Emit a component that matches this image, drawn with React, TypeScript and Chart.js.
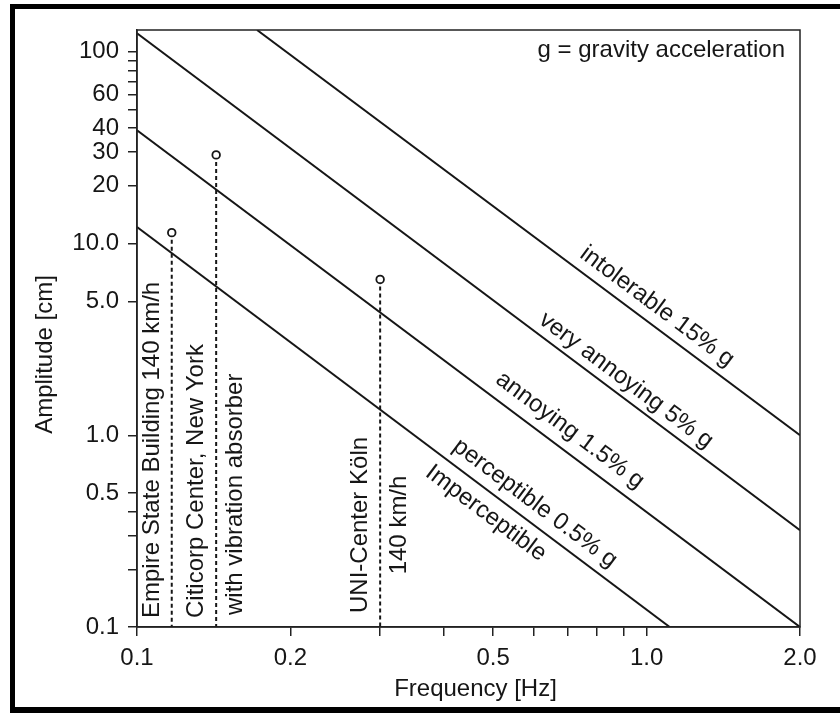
import React, { useEffect, useRef } from 'react';
import { Chart, registerables } from 'chart.js';
Chart.register(...registerables);

const FONT = '"Liberation Sans", Arial, Helvetica, sans-serif';
const INK = '#161616';
const FS = 24;

// ---- axis ticks ----
const xTickValues = [0.1, 0.2, 0.3, 0.4, 0.5, 0.6, 0.7, 0.8, 0.9, 1.0, 2.0];
const xTickLabels = ['0.1', '0.2', '', '', '0.5', '', '', '', '', '1.0', '2.0'];
const yTickValues = [0.1, 0.2, 0.3, 0.4, 0.5, 1, 5, 10, 20, 30, 40, 50, 60, 70, 80, 90, 100];
const yTickLabels = ['0.1', '', '', '', '0.5', '1.0', '5.0', '10.0', '20', '30', '40', '', '60', '', '', '', '100'];

// ---- comfort limit lines (frequency Hz, amplitude cm) ----
const intolerable = [{ x: 0.172, y: 130 }, { x: 2.0, y: 1.0 }];
const veryAnnoying = [{ x: 0.1, y: 125 }, { x: 2.0, y: 0.32 }];
const annoying = [{ x: 0.1, y: 39 }, { x: 2.0, y: 0.1 }];
const perceptible = [{ x: 0.1, y: 12.2 }, { x: 1.11, y: 0.1 }];
const limitLines = [intolerable, veryAnnoying, annoying, perceptible];

const limitLabels = ['intolerable 15% g', 'very annoying 5% g', 'annoying 1.5% g', 'perceptible 0.5% g', 'Imperceptible'];
const limitLabelLine = [0, 1, 2, 3, 3];
const limitLabelFreq = [1.0, 0.874, 0.671, 0.575, 0.51];

// ---- buildings ----
const buildingFreq = [0.117, 0.143, 0.3];
const buildingAmp = [11.4, 29, 6.5];
const buildingLabel1 = ['Empire State Building 140 km/h', 'Citicorp Center, New York', 'UNI-Center Köln'];
const buildingLabel2 = ['', 'with vibration absorber', '140 km/h'];
const axisFloor = 0.1;

const noteText = 'g = gravity acceleration';
const xTitle = 'Frequency [Hz]';
const yTitle = 'Amplitude [cm]';

// ---- style / placement (pixels) ----
const LABEL_OFFSETS = [17.6, 15.5, 19.4, 18, -19.4];
const BUILDING_STYLE = [
  { off1: -13, gap1: 9, off2: 0, gap2: 0, center2: false },
  { off1: -13, gap1: 9, off2: 26, gap2: 12, center2: false },
  { off1: -13, gap1: 14, off2: 26, gap2: 0, center2: true },
];

const labelPlugin = {
  id: 'labels',
  beforeDraw(chart: any) {
    const ctx = chart.ctx;
    ctx.save();
    ctx.fillStyle = '#fff';
    ctx.fillRect(0, 0, chart.width, chart.height);
    ctx.restore();
  },
  afterDatasetsDraw(chart: any) {
    const ctx = chart.ctx;
    const xs = chart.scales.x;
    const ys = chart.scales.y;
    const area = chart.chartArea;
    ctx.save();
    ctx.fillStyle = INK;
    ctx.font = `${FS}px ${FONT}`;

    // limit line labels
    limitLabels.forEach((txt, i) => {
      const line = limitLines[limitLabelLine[i]];
      const x0 = xs.getPixelForValue(line[0].x), y0 = ys.getPixelForValue(line[0].y);
      const x1 = xs.getPixelForValue(line[1].x), y1 = ys.getPixelForValue(line[1].y);
      const ang = Math.atan2(y1 - y0, x1 - x0);
      const px = xs.getPixelForValue(limitLabelFreq[i]);
      const t = (px - x0) / (x1 - x0);
      const py = y0 + t * (y1 - y0);
      const off = LABEL_OFFSETS[i];
      const cx = px + off * Math.sin(ang);
      const cy = py - off * Math.cos(ang);
      ctx.save();
      ctx.translate(cx, cy);
      ctx.rotate(ang);
      ctx.textAlign = 'center';
      ctx.textBaseline = 'middle';
      ctx.fillText(txt, 0, 0);
      ctx.restore();
    });

    // building labels (vertical)
    buildingFreq.forEach((f, i) => {
      const x = xs.getPixelForValue(f);
      const st = BUILDING_STYLE[i];
      const w1 = ctx.measureText(buildingLabel1[i]).width;
      ctx.save();
      ctx.translate(x + st.off1, area.bottom - st.gap1);
      ctx.rotate(-Math.PI / 2);
      ctx.textAlign = 'left';
      ctx.textBaseline = 'alphabetic';
      ctx.fillText(buildingLabel1[i], 0, 0);
      ctx.restore();
      if (buildingLabel2[i]) {
        ctx.save();
        if (st.center2) {
          ctx.translate(x + st.off2, area.bottom - st.gap1 - w1 / 2);
          ctx.rotate(-Math.PI / 2);
          ctx.textAlign = 'center';
        } else {
          ctx.translate(x + st.off2, area.bottom - st.gap2);
          ctx.rotate(-Math.PI / 2);
          ctx.textAlign = 'left';
        }
        ctx.textBaseline = 'alphabetic';
        ctx.fillText(buildingLabel2[i], 0, 0);
        ctx.restore();
      }
    });

    // note
    ctx.textAlign = 'right';
    ctx.textBaseline = 'alphabetic';
    ctx.fillText(noteText, area.right - 15, 57);

    // axis titles
    ctx.textAlign = 'center';
    ctx.fillText(xTitle, (area.left + area.right) / 2 + 7, 696);
    ctx.save();
    ctx.translate(52, (area.top + area.bottom) / 2 + 26);
    ctx.rotate(-Math.PI / 2);
    ctx.fillText(yTitle, 0, 0);
    ctx.restore();

    ctx.restore();
  },
  afterDraw(chart: any) {
    const ctx = chart.ctx;
    const area = chart.chartArea;
    ctx.save();
    ctx.strokeStyle = '#222';
    ctx.lineWidth = 1.5;
    ctx.strokeRect(area.left, area.top, area.right - area.left, area.bottom - area.top);
    ctx.fillStyle = '#000';
    ctx.fillRect(10, 4, chart.width - 10, 5);
    ctx.fillRect(10, 4, 5, chart.height - 4);
    ctx.fillRect(10, chart.height - 6, chart.width - 10, 6);
    ctx.restore();
  },
};

export default function App() {
  const ref = useRef<HTMLCanvasElement | null>(null);
  useEffect(() => {
    if (!ref.current) return;
    const lineDs = limitLines.map((pts) => ({
      data: pts,
      showLine: true,
      borderColor: INK,
      borderWidth: 2,
      pointRadius: 0,
      order: 2,
    }));
    const dashDs = buildingFreq.map((f, i) => ({
      data: [{ x: f, y: buildingAmp[i] }, { x: f, y: axisFloor }],
      showLine: true,
      borderColor: INK,
      borderWidth: 2,
      borderDash: [4, 3],
      pointRadius: 0,
      order: 1,
    }));
    const pointDs = {
      data: buildingFreq.map((f, i) => ({ x: f, y: buildingAmp[i] })),
      showLine: false,
      pointRadius: 3.8,
      pointBorderWidth: 1.8,
      pointBackgroundColor: '#fff',
      pointBorderColor: INK,
      order: 0,
    };
    const tickFont = { family: FONT, size: FS };
    const chart = new Chart(ref.current, {
      type: 'scatter',
      data: { datasets: [pointDs, ...dashDs, ...lineDs] as any },
      options: {
        animation: false,
        responsive: false,
        devicePixelRatio: 1,
        layout: { padding: { left: 0, top: 30, right: 40, bottom: 0 } },
        plugins: { legend: { display: false }, tooltip: { enabled: false }, title: { display: false } },
        scales: {
          x: {
            type: 'logarithmic',
            min: 0.1,
            max: 2.0,
            afterBuildTicks: (s: any) => {
              s.ticks = xTickValues.map((v) => ({ value: v }));
            },
            afterFit: (s: any) => {
              s.height = 86;
            },
            ticks: {
              autoSkip: false,
              maxRotation: 0,
              minRotation: 0,
              padding: 8,
              color: INK,
              font: tickFont,
              callback: (_v: any, i: number) => xTickLabels[i],
            },
            grid: { drawOnChartArea: false, drawTicks: true, tickLength: 9, color: '#222', lineWidth: 1.5 },
            border: { display: true, color: '#222', width: 1.5 },
          },
          y: {
            type: 'logarithmic',
            min: 0.1,
            max: 130,
            afterBuildTicks: (s: any) => {
              s.ticks = yTickValues.map((v) => ({ value: v }));
            },
            afterFit: (s: any) => {
              s.width = 137;
            },
            ticks: {
              autoSkip: false,
              padding: 9,
              color: INK,
              font: tickFont,
              callback: (_v: any, i: number) => yTickLabels[i],
            },
            grid: { drawOnChartArea: false, drawTicks: true, tickLength: 9, color: '#222', lineWidth: 1.5 },
            border: { display: true, color: '#222', width: 1.5 },
          },
        },
      } as any,
      plugins: [labelPlugin],
    });
    return () => chart.destroy();
  }, []);
  return (
    <div style={{ position: 'absolute', left: 0, top: 0, width: 840, height: 713, background: '#fff' }}>
      <canvas ref={ref} width={840} height={713} style={{ display: 'block' }} />
    </div>
  );
}
